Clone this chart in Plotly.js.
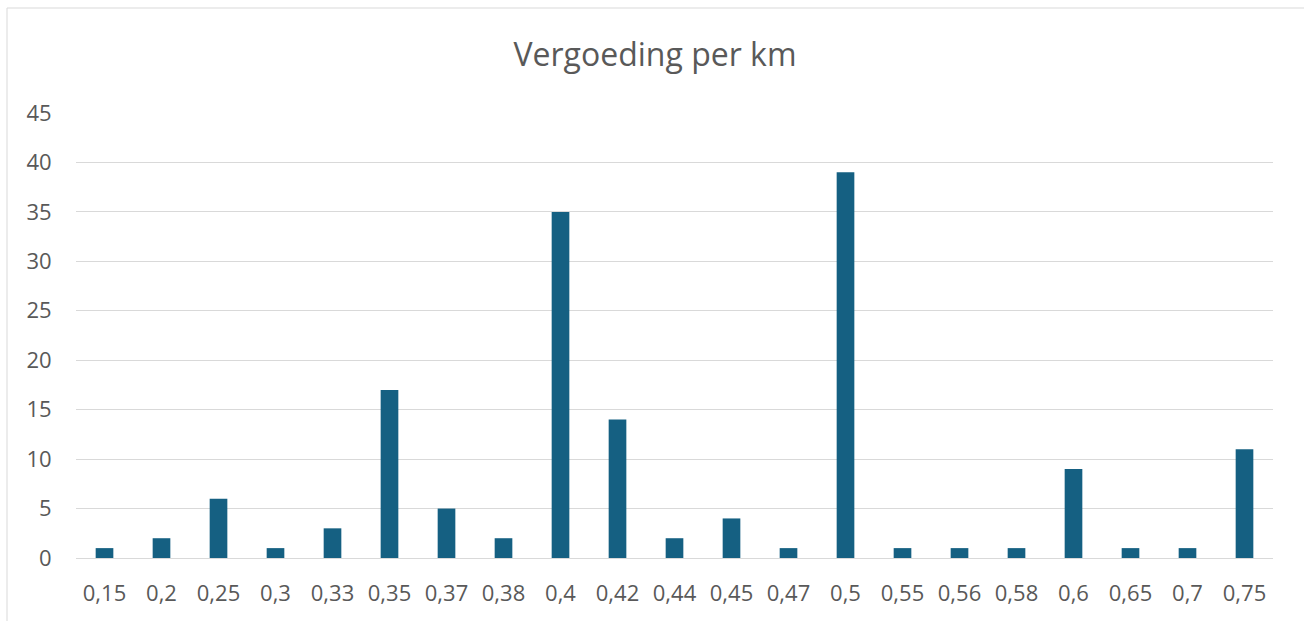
<!DOCTYPE html>
<html>
<head>
<meta charset="utf-8">
<script src="https://cdn.plot.ly/plotly-3.0.1.min.js"></script>
<style>html,body{margin:0;padding:0;background:#fff;}#chart{width:1304px;height:621px;}</style>
</head>
<body>
<div id="chart"></div>
<script>
const categories = ["0,15","0,2","0,25","0,3","0,33","0,35","0,37","0,38","0,4","0,42","0,44","0,45","0,47","0,5","0,55","0,56","0,58","0,6","0,65","0,7","0,75"];
const counts = [1,2,6,1,3,17,5,2,35,14,2,4,1,39,1,1,1,9,1,1,11];
const yTicks = [0,5,10,15,20,25,30,35,40,45];

const trace = {
  type: 'bar',
  x: categories,
  y: counts,
  marker: {color: '#156082', line: {width: 0}},
  hoverinfo: 'x+y'
};

const layout = {
  width: 1304,
  height: 621,
  margin: {l: 76, r: 31, t: 113, b: 63, pad: 0},
  paper_bgcolor: '#ffffff',
  plot_bgcolor: '#ffffff',
  bargap: 0.69,
  showlegend: false,
  font: {family: '"Open Sans", Arial, sans-serif', color: '#595959'},
  title: {
    text: 'Vergoeding per km',
    font: {family: '"Open Sans", Arial, sans-serif', size: 32, color: '#595959'},
    x: 655/1304, xref: 'container', xanchor: 'center',
    y: 1 - 55/621, yref: 'container', yanchor: 'middle'
  },
  xaxis: {
    type: 'category',
    tickfont: {size: 22, color: '#595959'},
    showgrid: false,
    showline: false,
    zeroline: false,
    ticks: 'outside',
    ticklen: 16,
    tickcolor: 'rgba(0,0,0,0)',
    tickangle: 0,
    automargin: false
  },
  yaxis: {
    range: [0, 45],
    tickvals: yTicks,
    ticktext: yTicks.map(String),
    tickfont: {size: 22, color: '#595959'},
    showgrid: true,
    gridcolor: '#d9d9d9',
    gridwidth: 1,
    zeroline: true,
    zerolinecolor: '#d9d9d9',
    zerolinewidth: 1,
    showline: false,
    ticks: 'outside',
    ticklen: 19,
    tickcolor: 'rgba(0,0,0,0)',
    automargin: false
  },
  shapes: [{
    type: 'rect', xref: 'paper', yref: 'paper',
    x0: (7-76)/1197, x1: 1.2, y0: -0.3, y1: (558-8)/445,
    line: {color: '#d9d9d9', width: 1},
    fillcolor: 'rgba(0,0,0,0)',
    layer: 'below'
  }]
};

Plotly.newPlot('chart', [trace], layout, {displayModeBar: false, staticPlot: true});
</script>
</body>
</html>
